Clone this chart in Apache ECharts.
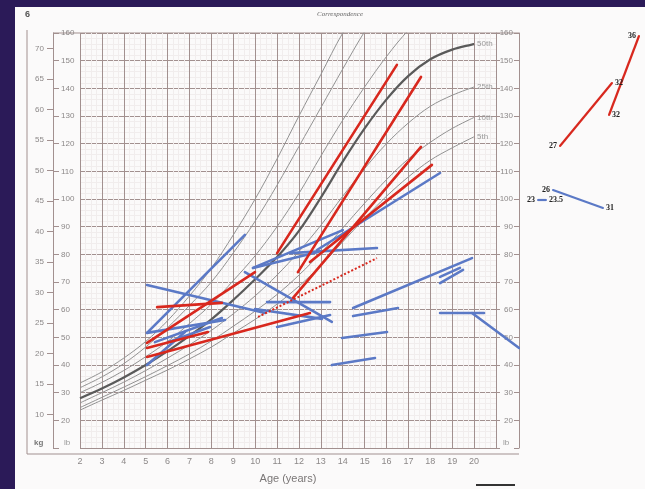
<!DOCTYPE html>
<html>
<head>
<meta charset="utf-8">
<script src="https://cdn.jsdelivr.net/npm/echarts@6/dist/echarts.min.js"></script>
<style>
  html, body { margin: 0; padding: 0; background: #2b1a58; }
  #chart { width: 645px; height: 489px; }
</style>
</head>
<body>
<div id="chart"></div>
<script>
// ages (years) for the percentile curves
var AGES = [2, 3, 4, 5, 6, 7, 8, 9, 10, 11, 12, 13, 14, 15, 16, 17, 18, 19, 20];

// weight percentiles, lb
var P5  = [23.7, 27.3, 30.8, 34.5, 38.2, 42.2, 46.5, 51.5, 56.5, 62, 68.5, 76, 84.5, 93, 101, 108, 114, 118.5, 122.5];
var P10 = [24.6, 28.3, 32, 35.8, 39.8, 44, 48.7, 54, 59.5, 65.5, 72.5, 80.5, 89.5, 98.5, 107, 114.5, 120.5, 125.5, 129.5];
var P25 = [26.3, 30, 33.8, 38, 42.5, 47.3, 52.5, 58.5, 65, 72.5, 81, 90.5, 101, 111, 120, 127.5, 133.5, 137.5, 140.5];
var P50 = [28, 31.5, 35.5, 40, 45, 50.5, 56.5, 63.5, 71, 79, 88.5, 100.5, 113.5, 125.5, 136, 144.5, 150.5, 154, 156];
var P75 = [30, 33.7, 38, 43, 48.5, 55, 62, 70.5, 79.5, 90, 102, 115.5, 128.5, 140.5, 151.5, 161, 168];
var P90 = [31.8, 35.7, 40.5, 46.5, 53.5, 61.5, 70, 80.5, 92, 105, 119, 133, 147, 160.5, 172];
var P95 = [33.5, 37.5, 42.5, 48.5, 56, 65, 75, 87, 100, 114.5, 130, 145, 160, 172];

// kg tick labels on the left
var KG_TICKS = [10, 15, 20, 25, 30, 35, 40, 45, 50, 55, 60, 65, 70];

// patient segments [age, lb] -> [age, lb]
var RED_SEGMENTS = [
  [[11.0, 81.4], [16.47, 148.6]],
  [[11.95, 74.6], [17.57, 144.3]],
  [[11.73, 65.4], [17.57, 119.3]],
  [[12.5, 78.2], [18.07, 112.9]],
  [[5.06, 49.3], [9.99, 74.6]],
  [[5.52, 62.1], [8.48, 63.6]],
  [[5.06, 44.3], [12.5, 60.0]],
  [[5.06, 47.5], [7.84, 53.2]]
];
var RED_DOTTED = [
  [[10.13, 58.6], [15.56, 79.6]]
];
var BLUE_SEGMENTS = [
  [[5.06, 52.9], [9.53, 87.9]],
  [[5.06, 70.0], [10.45, 60.0]],
  [[9.53, 74.6], [13.5, 56.8]],
  [[10.54, 63.9], [13.42, 63.9]],
  [[11.59, 81.4], [15.56, 83.2]],
  [[9.9, 76.1], [14.0, 89.6]],
  [[12.82, 82.5], [18.44, 110.0]],
  [[14.47, 61.8], [19.9, 79.6]],
  [[18.44, 70.7], [19.49, 75.4]],
  [[18.44, 72.9], [19.35, 76.1]],
  [[14.47, 58.9], [16.52, 61.8]],
  [[13.96, 51.1], [16.02, 53.2]],
  [[13.5, 41.4], [15.47, 43.9]],
  [[18.44, 60.0], [20.45, 60.0]],
  [[19.9, 60.0], [22.05, 47.5]],
  [[5.06, 52.9], [8.62, 57.5]],
  [[5.42, 49.6], [8.48, 58.2]],
  [[11.0, 55.0], [13.42, 59.3]],
  [[9.99, 61.4], [13.05, 57.9]],
  [[6.02, 49.6], [7.94, 55.0]],
  [[9.9, 76.1], [12.87, 81.8]],
  [[5.06, 41.4], [6.79, 53.2]]
];

// side sketch (own 0-100 space), with the numbers written at each end
var SIDE_RED = [
  [[32, 37], [73.6, 68.5]],
  [[71.2, 52.5], [95.2, 92]]
];
var SIDE_RED_LABELS = [['27', '32'], ['32', '36']];
var SIDE_BLUE = [
  [[14.4, 10], [20.8, 10]],
  [[26.4, 15], [66.4, 6]]
];
var SIDE_BLUE_LABELS = [['23', '23.5'], ['26', '31']];

var RED = '#d8281e';
var BLUE = '#5b79c6';
var GRIDLINE = '#a2908f';
var MINOR = '#f1eded';
var TXT = '#8c8888';

var chart = echarts.init(document.getElementById('chart'), null, { renderer: 'canvas' });

function zip(ys) {
  var out = [];
  for (var i = 0; i < ys.length; i++) out.push([AGES[i], ys[i]]);
  return out;
}

function curve(name, ys, bold, showEnd) {
  return {
    name: name,
    type: 'line',
    xAxisIndex: 0,
    yAxisIndex: 0,
    smooth: 0.35,
    showSymbol: false,
    silent: true,
    data: zip(ys),
    lineStyle: { color: bold ? '#5a5a5a' : '#929292', width: bold ? 2.2 : 1 },
    endLabel: {
      show: showEnd,
      formatter: '{a}',
      color: '#999',
      fontSize: 8,
      fontFamily: 'Liberation Sans',
      distance: 3
    },
    z: 3
  };
}

var series = [
  curve('95th', P95, false, false),
  curve('90th', P90, false, false),
  curve('75th', P75, false, false),
  curve('50th', P50, true, true),
  curve('25th', P25, false, true),
  curve('10th', P10, false, true),
  curve('5th', P5, false, true)
];

// segments sit on an overlay grid that runs one year further right
function segSeries(segs, color, dotted) {
  segs.forEach(function (s) {
    series.push({
      type: 'line',
      xAxisIndex: 2,
      yAxisIndex: 5,
      showSymbol: false,
      silent: true,
      data: s,
      lineStyle: { color: color, width: dotted ? 2 : 2.6, type: dotted ? 'dotted' : 'solid', cap: dotted ? 'butt' : 'round' },
      z: 5
    });
  });
}
segSeries(BLUE_SEGMENTS, BLUE, false);
segSeries(RED_SEGMENTS, RED, false);
segSeries(RED_DOTTED, RED, true);

function sideSeries(segs, labels, color, pos) {
  segs.forEach(function (s, i) {
    series.push({
      type: 'line',
      xAxisIndex: 1,
      yAxisIndex: 4,
      symbol: 'circle',
      symbolSize: 2,
      silent: true,
      itemStyle: { color: color },
      lineStyle: { color: color, width: 2.2 },
      data: [
        { value: s[0], label: { show: true, formatter: labels[i][0], position: pos[i][0] } },
        { value: s[1], label: { show: true, formatter: labels[i][1], position: pos[i][1] } }
      ],
      label: { color: '#222', fontSize: 8, fontWeight: 'bold', fontFamily: 'Liberation Serif', distance: 2 },
      z: 5
    });
  });
}
sideSeries(SIDE_RED, SIDE_RED_LABELS, RED, [['left', 'right'], ['right', 'left']]);
sideSeries(SIDE_BLUE, SIDE_BLUE_LABELS, BLUE, [['left', 'right'], ['left', 'right']]);

var option = {
  backgroundColor: '#fbfafa',
  animation: false,
  grid: [
    { left: 80, top: 33, width: 416, height: 420 },
    { left: 520, top: 20, width: 125, height: 200 },
    { left: 80, top: 33, width: 438, height: 420 }
  ],
  xAxis: [
    {
      type: 'value',
      gridIndex: 0,
      min: 2,
      max: 21,
      interval: 1,
      axisLine: { show: false },
      axisTick: { show: false },
      axisLabel: {
        color: TXT,
        fontSize: 9,
        fontFamily: 'Liberation Sans',
        margin: 9,
        formatter: function (v) { return v > 20 ? '' : v; }
      },
      splitLine: { show: true, lineStyle: { color: GRIDLINE, width: 1 } },
      minorTick: { show: false, splitNumber: 4 },
      minorSplitLine: { show: true, lineStyle: { color: MINOR, width: 1 } },
      name: 'Age (years)',
      nameLocation: 'middle',
      nameGap: 25,
      nameTextStyle: { color: '#7a7676', fontSize: 11, fontFamily: 'Liberation Sans' }
    },
    { type: 'value', gridIndex: 1, min: 0, max: 100, show: false },
    { type: 'value', gridIndex: 2, min: 2, max: 22, show: false }
  ],
  yAxis: [
    {
      type: 'value',
      gridIndex: 0,
      position: 'left',
      offset: 27,
      min: 10,
      max: 160,
      interval: 10,
      axisLine: { show: true, lineStyle: { color: GRIDLINE } },
      axisTick: { show: true, inside: true, length: 6, lineStyle: { color: GRIDLINE } },
      axisLabel: {
        inside: true,
        margin: 8,
        color: TXT,
        fontSize: 8,
        fontFamily: 'Liberation Sans',
        formatter: function (v) { return v === 10 ? '' : v; }
      },
      splitLine: { show: true, lineStyle: { color: GRIDLINE, width: 1 } },
      minorTick: { show: false, splitNumber: 5 },
      minorSplitLine: { show: true, lineStyle: { color: MINOR, width: 1 } }
    },
    {
      type: 'value',
      gridIndex: 0,
      position: 'left',
      offset: 27,
      min: 10 / 2.20462,
      max: 160 / 2.20462,
      axisLine: { show: false },
      axisTick: { show: true, length: 6, customValues: KG_TICKS, lineStyle: { color: GRIDLINE } },
      axisLabel: { customValues: KG_TICKS, margin: 9, color: TXT, fontSize: 8, fontFamily: 'Liberation Sans' },
      splitLine: { show: false }
    },
    {
      type: 'value',
      gridIndex: 0,
      position: 'right',
      offset: 23,
      min: 10,
      max: 160,
      interval: 10,
      axisLine: { show: true, lineStyle: { color: GRIDLINE } },
      axisTick: { show: true, inside: true, length: 5, lineStyle: { color: GRIDLINE } },
      axisLabel: {
        inside: true,
        margin: 6,
        color: TXT,
        fontSize: 8,
        fontFamily: 'Liberation Sans',
        formatter: function (v) { return v === 10 ? '' : v; }
      },
      splitLine: { show: false }
    },
    {
      type: 'value',
      gridIndex: 0,
      position: 'right',
      offset: 0,
      min: 10,
      max: 160,
      interval: 10,
      axisLine: { show: true, lineStyle: { color: GRIDLINE } },
      axisTick: { show: true, length: 4, lineStyle: { color: GRIDLINE } },
      axisLabel: { show: false },
      splitLine: { show: false }
    },
    { type: 'value', gridIndex: 1, min: 0, max: 100, show: false },
    { type: 'value', gridIndex: 2, min: 10, max: 160, show: false }
  ],
  graphic: [
    { type: 'rect', shape: { x: 0, y: 0, width: 645, height: 7 }, style: { fill: '#2b1a58' } },
    { type: 'rect', shape: { x: 0, y: 0, width: 15, height: 489 }, style: { fill: '#2b1a58' } },
    { type: 'line', shape: { x1: 27, y1: 30, x2: 27, y2: 454 }, style: { stroke: GRIDLINE, lineWidth: 1 } },
    { type: 'line', shape: { x1: 27, y1: 454, x2: 519, y2: 454 }, style: { stroke: GRIDLINE, lineWidth: 1.2 } },
    { type: 'line', shape: { x1: 53, y1: 33, x2: 519, y2: 33 }, style: { stroke: GRIDLINE, lineWidth: 1 } },
    { type: 'text', x: 25, y: 10, style: { text: '6', fill: '#555', font: 'bold 9px Liberation Sans' } },
    { type: 'text', x: 340, y: 11, style: { text: 'Correspondence', fill: '#666', font: 'italic 7px Liberation Serif', textAlign: 'center' } },
    { type: 'text', x: 34, y: 439, style: { text: 'kg', fill: '#777', font: 'bold 8px Liberation Sans' } },
    { type: 'text', x: 64, y: 439, style: { text: 'lb', fill: '#999', font: '8px Liberation Sans' } },
    { type: 'text', x: 503, y: 439, style: { text: 'lb', fill: '#999', font: '8px Liberation Sans' } },
    { type: 'line', shape: { x1: 476, y1: 485, x2: 515, y2: 485 }, style: { stroke: '#333', lineWidth: 2 } }
  ],
  series: series
};

chart.setOption(option);
</script>
</body>
</html>
